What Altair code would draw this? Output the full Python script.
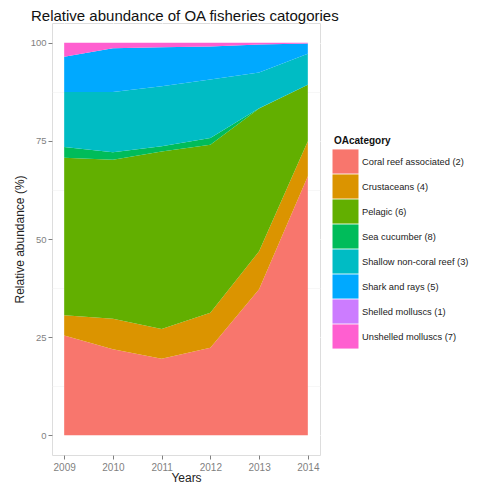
import altair as alt
import pandas as pd

years = [2009, 2010, 2011, 2012, 2013, 2014]
categories = [
    "Coral reef associated (2)",
    "Crustaceans (4)",
    "Pelagic (6)",
    "Sea cucumber (8)",
    "Shallow non-coral reef (3)",
    "Shark and rays (5)",
    "Shelled molluscs (1)",
    "Unshelled molluscs (7)",
]
coral = [25.4, 21.9, 19.5, 22.3, 37.2, 66.0]
crustaceans = [5.2, 7.8, 7.6, 8.9, 9.7, 8.9]
pelagic = [40.1, 40.5, 45.2, 42.8, 36.3, 14.4]
sea_cucumber = [2.7, 1.9, 1.3, 1.7, 0.1, 0.0]
shallow = [14.0, 15.3, 15.3, 14.9, 9.1, 7.9]
shark = [9.0, 11.2, 9.9, 8.4, 7.1, 2.6]
shelled = [0.0, 0.0, 0.0, 0.0, 0.0, 0.0]
unshelled = [3.6, 1.4, 1.2, 1.0, 0.5, 0.2]
series = [coral, crustaceans, pelagic, sea_cucumber, shallow, shark, shelled, unshelled]
colors = ["#F8766D", "#DB9400", "#62AF00", "#00BC5A", "#00BCC4", "#00A9FF", "#CC7CFF", "#FF5FD0"]

rows = []
for i, (cat, vals) in enumerate(zip(categories, series)):
    for y, v in zip(years, vals):
        rows.append({"Year": y, "OAcategory": cat, "value": v, "idx": i})
df = pd.DataFrame(rows)

y_ticks = [0, 12.5, 25, 37.5, 50, 62.5, 75, 87.5, 100]
x_ticks = [2009, 2009.5, 2010, 2010.5, 2011, 2011.5, 2012, 2012.5, 2013, 2013.5, 2014]

chart = alt.Chart(df).mark_area(interpolate="linear").encode(
    x=alt.X("Year:Q", title="Years",
            scale=alt.Scale(domain=[2008.75, 2014.25], nice=False, zero=False),
            axis=alt.Axis(values=x_ticks, format="d",
                          labelExpr="datum.value % 1 == 0 ? datum.label : ''",
                          gridColor={"condition": {"test": "datum.value % 1 != 0", "value": "#F2F2F2"}, "value": "#FFFFFF"},
                          gridWidth={"condition": {"test": "datum.value % 1 != 0", "value": 0.6}, "value": 1.1},
                          tickOpacity={"condition": {"test": "datum.value % 1 != 0", "value": 0}, "value": 1},
                          domain=False, tickColor="#7F7F7F", tickSize=4, labelPadding=3,
                          labelColor="#7F7F7F", labelFontSize=10, labelFont="Liberation Sans",
                          titleFont="Liberation Sans", titleFontSize=12, titleFontWeight="normal",
                          titleColor="#222222", titlePadding=0)),
    y=alt.Y("value:Q", title="Relative abundance (%)", stack="zero",
            scale=alt.Scale(domain=[-5, 105], nice=False, zero=False),
            axis=alt.Axis(values=y_ticks,
                          labelExpr="datum.value % 25 == 0 ? datum.label : ''",
                          gridColor={"condition": {"test": "datum.value % 25 != 0", "value": "#F2F2F2"}, "value": "#FFFFFF"},
                          gridWidth={"condition": {"test": "datum.value % 25 != 0", "value": 0.6}, "value": 1.1},
                          tickOpacity={"condition": {"test": "datum.value % 25 != 0", "value": 0}, "value": 1},
                          domain=False, tickColor="#7F7F7F", tickSize=4, labelPadding=2,
                          labelColor="#7F7F7F", labelFontSize=9.5, labelFont="Liberation Sans",
                          titleFont="Liberation Sans", titleFontSize=12, titleFontWeight="normal",
                          titleColor="#222222", titlePadding=4)),
    color=alt.Color("OAcategory:N",
                    scale=alt.Scale(domain=categories, range=colors),
                    legend=alt.Legend(orient="none", legendX=282, legendY=113,
                                      title="OAcategory", titleFont="Liberation Sans",
                                      titleFontSize=10, titleFontWeight="bold", titleColor="#111111",
                                      titlePadding=4,
                                      symbolType="M-1.13,-1.05L1.13,-1.05L1.13,1.05L-1.13,1.05Z",
                                      symbolSize=529, symbolStrokeWidth=0, symbolOpacity=1,
                                      rowPadding=0, labelOffset=5,
                                      labelFont="Liberation Sans", labelFontSize=9.3,
                                      labelColor="#222222", labelLimit=200)),
    order=alt.Order("idx:Q", sort="ascending"),
).properties(
    width=268,
    height=432,
    title=alt.TitleParams("Relative abundance of OA fisheries catogories",
                          anchor="start", frame="group", dx=-21, offset=-1,
                          font="Liberation Sans", fontSize=15, fontWeight="normal",
                          color="#111111"),
    autosize=alt.AutoSizeParams(type="none"),
    padding={"left": 44, "top": 15, "right": 152, "bottom": 29},
).configure_view(
    fill="#E5E5E5", stroke=None
).configure(background="#FFFFFF")

chart.save("out.html", embed_options={"renderer": "svg", "actions": False})
